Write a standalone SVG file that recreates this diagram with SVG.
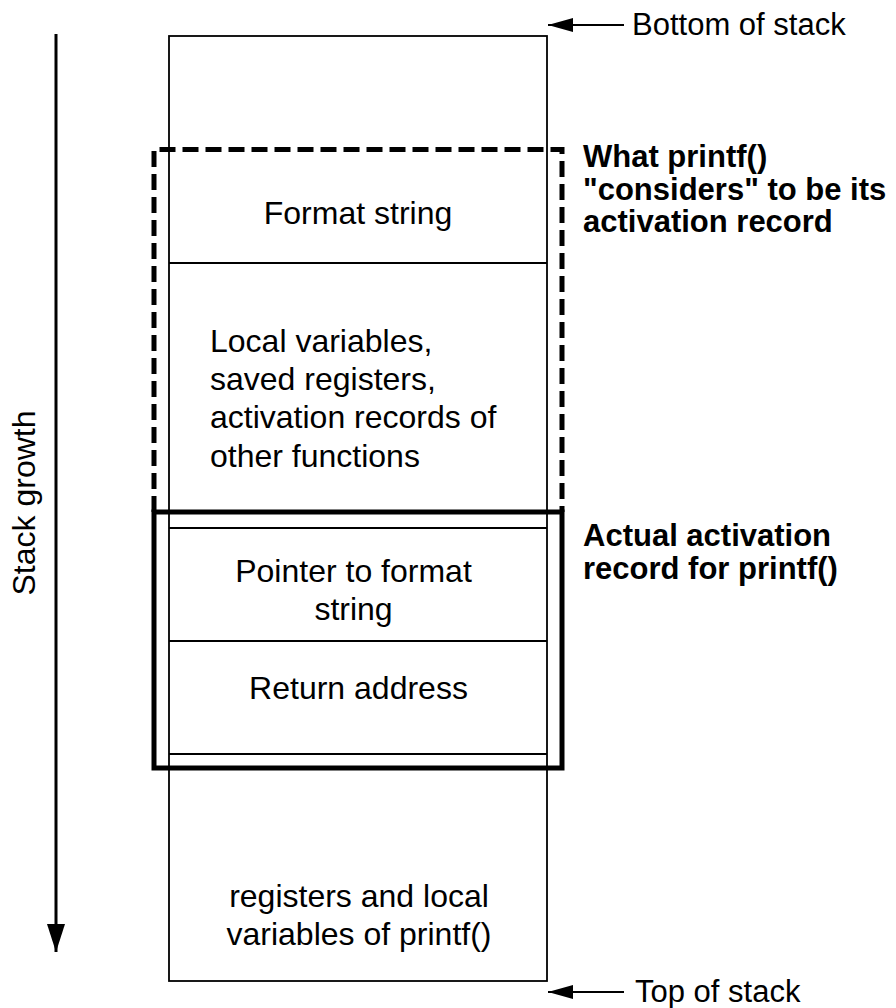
<svg xmlns="http://www.w3.org/2000/svg" width="896" height="1008" viewBox="0 0 896 1008">
<style>
.t{font-family:"Liberation Sans",Arial,sans-serif;font-size:32px;fill:#000}
.s{font-family:"Liberation Sans",Arial,sans-serif;font-size:31px;fill:#000}
.b{font-family:"Liberation Sans",Arial,sans-serif;font-size:31px;font-weight:bold;fill:#000}
.c{text-anchor:middle}
.cell{fill:none;stroke:#000;stroke-width:1.8}
</style>
<defs>
<marker id="ah" viewBox="0 0 25 14" refX="25" refY="7" markerWidth="25" markerHeight="14" markerUnits="userSpaceOnUse" orient="auto">
<path d="M0,0 L25,7 L0,14 Z" fill="#000"/>
</marker>
<marker id="ahBig" viewBox="0 0 18 28" refX="9" refY="28" markerWidth="18" markerHeight="28" markerUnits="userSpaceOnUse" orient="0">
<path d="M0,0 L18,0 L9,28 Z" fill="#000"/>
</marker>
</defs>
<g id="stack">
<rect class="cell" x="169" y="36" width="378" height="945"/>
<line class="cell" x1="169" y1="263" x2="547" y2="263"/>
<line class="cell" x1="169" y1="512" x2="547" y2="512"/>
<line class="cell" x1="169" y1="528" x2="547" y2="528"/>
<line class="cell" x1="169" y1="641" x2="547" y2="641"/>
<line class="cell" x1="169" y1="754" x2="547" y2="754"/>
<line class="cell" x1="169" y1="768" x2="547" y2="768"/>
</g>
<g id="format-string"><text class="t c" x="358" y="224">Format string</text></g>
<g id="local-vars">
<text class="t" x="210" y="352">Local variables,</text>
<text class="t" x="210" y="390">saved registers,</text>
<text class="t" x="210" y="428">activation records of</text>
<text class="t" x="210" y="467">other functions</text>
</g>
<g id="pointer"><text class="t c" x="353.5" y="582">Pointer to format</text><text class="t c" x="353.5" y="620">string</text></g>
<g id="return"><text class="t c" x="358.5" y="699">Return address</text></g>
<g id="printf-locals"><text class="t c" x="359" y="907">registers and local</text><text class="t c" x="359" y="945">variables of printf()</text></g>
<g id="considered-box">
<path d="M154,512 V149.5 H562 V512" fill="none" stroke="#000" stroke-width="5" stroke-dasharray="16 7"/>
<text class="b" x="583" y="167">What printf()</text>
<text class="b" x="583" y="200">"considers" to be its</text>
<text class="b" x="583" y="232">activation record</text>
</g>
<g id="actual-box">
<rect x="154" y="512" width="408" height="256" fill="none" stroke="#000" stroke-width="5"/>
<text class="b" x="583" y="546">Actual activation</text>
<text class="b" x="583" y="579">record for printf()</text>
</g>
<g id="connectors" fill="none" stroke="#000">
<line x1="56" y1="34" x2="56" y2="952" stroke-width="3" marker-end="url(#ahBig)"/>
<line x1="624" y1="25" x2="548" y2="25" stroke-width="2" marker-end="url(#ah)"/>
<line x1="624" y1="992" x2="548" y2="992" stroke-width="2" marker-end="url(#ah)"/>
</g>
<g id="labels">
<text class="s" x="632" y="35">Bottom of stack</text>
<text class="s" x="635" y="1002">Top of stack</text>
<text class="t c" transform="translate(35,503) rotate(-90)">Stack growth</text>
</g>
</svg>
